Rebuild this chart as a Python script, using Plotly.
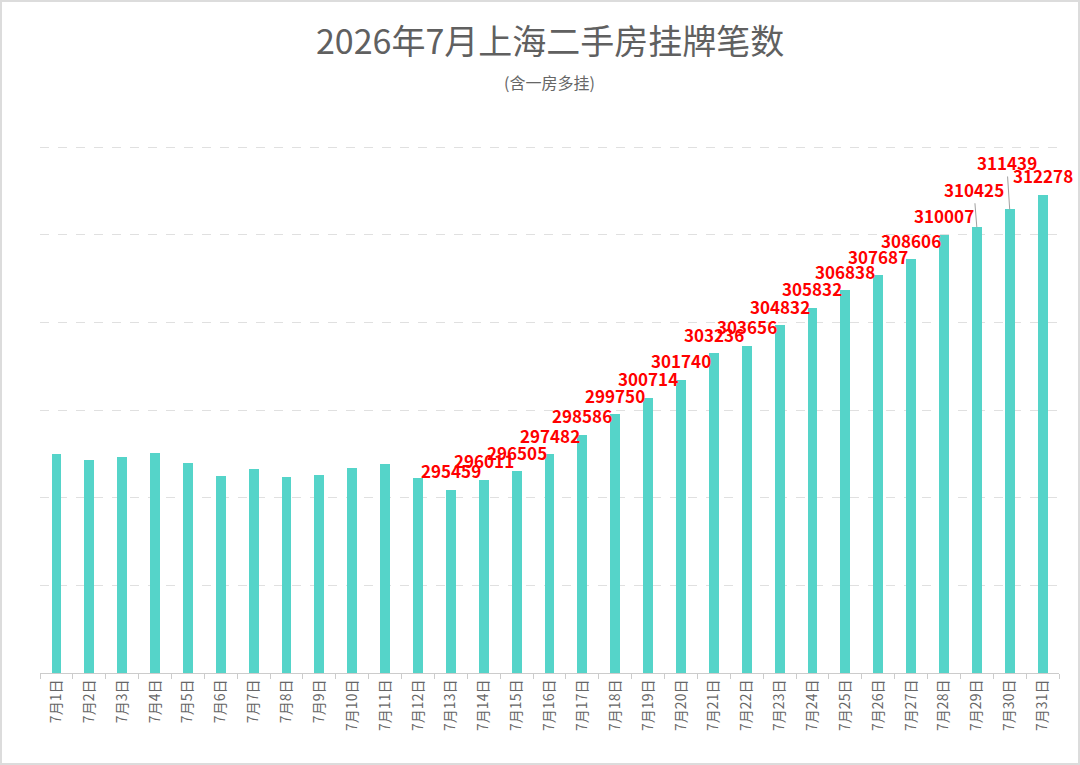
import plotly.graph_objects as go

days = [f"7月{d}日" for d in range(1, 32)]
listings = [
    297510, 297150, 297340, 297550, 296960, 296240, 296640, 296170,
    296310, 296700, 296910, 296130, 295459, 296011, 296505, 297482,
    298586, 299750, 300714, 301740, 303236, 303656, 304832, 305832,
    306838, 307687, 308606, 310007, 310425, 311439, 312278,
]
first_labeled = "7月13日"
y_range = [285000, 315060]

W, H = 1080, 765
ml, mr, mt, mb = 40, 21, 146, 92
pw, ph = W - ml - mr, H - mt - mb

fig = go.Figure()

fig.add_trace(go.Bar(
    x=days,
    y=listings,
    width=0.3,
    marker=dict(color="#55D4C9", line=dict(width=0)),
    hoverinfo="x+y",
))

# red value labels (from 7月13日 on); two of them pushed up with a leader line
lifted = {"7月29日": 38, "7月30日": 47}
start = days.index(first_labeled)
for day, val in zip(days[start:], listings[start:]):
    if day in lifted:
        fig.add_annotation(
            x=day, y=val, text=str(val),
            showarrow=True, arrowhead=0, arrowwidth=1, arrowcolor="#a0a0a0",
            ax=-3, ay=-lifted[day], standoff=0,
            font=dict(family="Noto Sans CJK SC", size=17, color="#ff0000", weight="bold"),
        )
    else:
        fig.add_annotation(
            x=day, y=val, text=str(val), showarrow=False,
            yanchor="middle", yshift=19,
            font=dict(family="Noto Sans CJK SC", size=17, color="#ff0000", weight="bold"),
        )

# title + subtitle
fig.add_annotation(
    xref="paper", yref="paper", x=0.5, y=(H - mb - 40) / ph,
    text="2026年7月上海二手房挂牌笔数", showarrow=False,
    xanchor="center", yanchor="middle",
    font=dict(family="Noto Sans CJK SC", size=34, color="#606060"),
)
fig.add_annotation(
    xref="paper", yref="paper", x=0.5, y=(H - mb - 82) / ph,
    text="(含一房多挂)", showarrow=False,
    xanchor="center", yanchor="middle",
    font=dict(family="Noto Sans CJK SC", size=16, color="#666666"),
)

# thin frame around the whole picture
fig.add_shape(
    type="rect", xref="paper", yref="paper",
    x0=(1 - ml) / pw, x1=(W - 1 - ml) / pw,
    y0=(H - mb - (H - 1)) / ph, y1=(H - mb - 1) / ph,
    line=dict(color="#dcdcdc", width=2), fillcolor="rgba(0,0,0,0)",
    layer="below",
)

fig.update_layout(
    width=W,
    height=H,
    margin=dict(l=ml, r=mr, t=mt, b=mb, pad=0),
    plot_bgcolor="white",
    paper_bgcolor="white",
    showlegend=False,
    bargap=0,
    font=dict(family="Noto Sans CJK SC", color="#666666"),
    xaxis=dict(
        type="category",
        range=[-0.5, len(days) - 0.5],
        tickangle=-90,
        tickson="boundaries",
        ticks="outside",
        ticklen=5,
        tickcolor="#cccccc",
        showline=True,
        linecolor="#cccccc",
        linewidth=1,
        showgrid=False,
        zeroline=False,
        tickfont=dict(size=14, color="#666666"),
    ),
    yaxis=dict(
        range=y_range,
        dtick=5000,
        tick0=285000,
        showticklabels=False,
        showgrid=True,
        gridcolor="#e0e0e0",
        griddash="dash",
        gridwidth=1,
        zeroline=False,
        showline=False,
    ),
)

fig.write_html(
    "out.html",
    config={"displayModeBar": False},
    post_script="document.body.style.margin='0px';",
)
